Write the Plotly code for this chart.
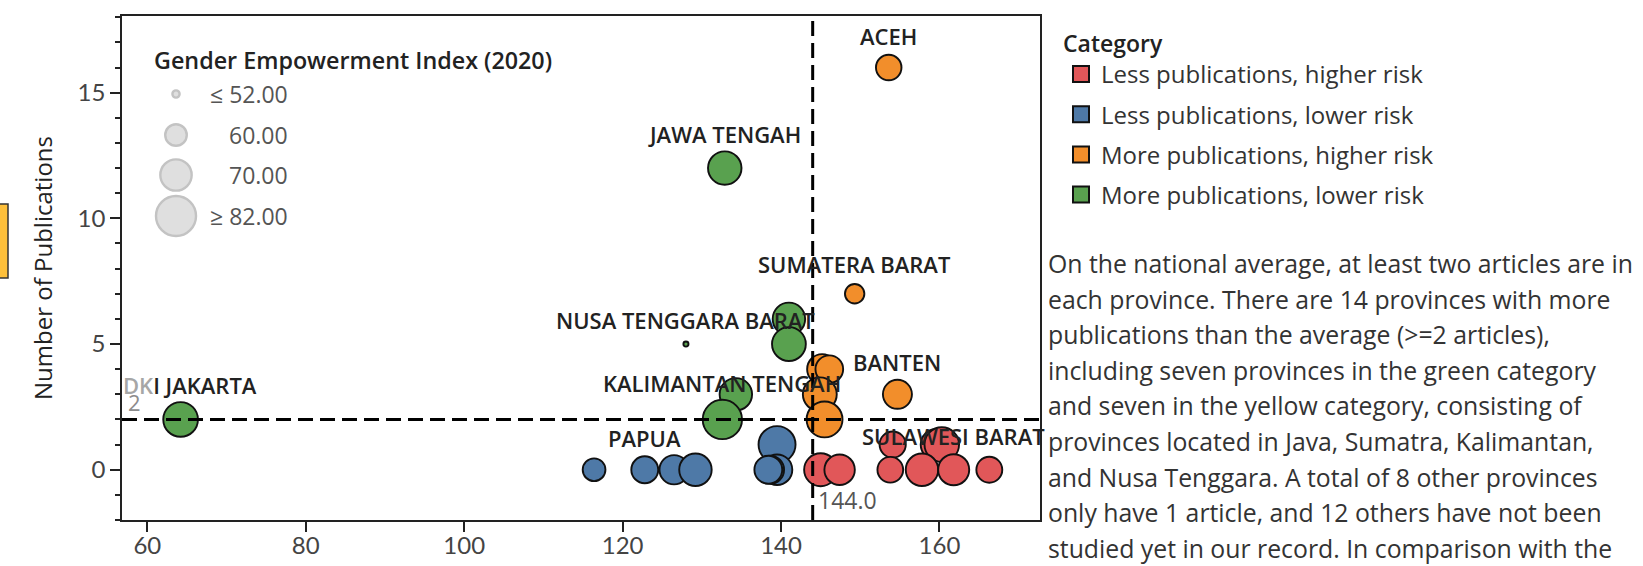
import plotly.graph_objects as go

# ---------------- data ----------------
province = ["ACEH", "JAWA TENGAH", "SUMATERA BARAT", "", "", "NUSA TENGGARA BARAT",
            "", "", "", "BANTEN", "", "KALIMANTAN TENGAH", "", "DKI JAKARTA",
            "", "", "", "",
            "", "PAPUA", "", "", "", "", "",
            "", "", "", "", "SULAWESI BARAT", ""]
risk_score = [153.6, 132.9, 149.3, 141.0, 141.0, 128.0,
              145.2, 146.1, 144.9, 154.7, 134.3, 132.6, 145.5, 64.2,
              139.5, 154.1, 159.6, 160.3,
              116.4, 122.8, 126.5, 129.2, 139.5, 138.6, 138.4,
              145.0, 147.4, 153.8, 157.8, 161.8, 166.3]
publications = [16, 12, 7, 6, 5, 5,
                4, 4, 3, 3, 3, 2, 2, 2,
                1, 1, 1, 1,
                0, 0, 0, 0, 0, 0, 0,
                0, 0, 0, 0, 0, 0]
gei_2020 = [63.6, 72.7, 58.3, 71.4, 73.1, 51.5,
            68.5, 65.8, 73.2, 67.3, 71.4, 80.9, 75.9, 74.3,
            77.5, 64.3, 69.7, 74.1,
            61.0, 65.0, 67.5, 71.4, 69.0, 66.5, 66.0,
            72.0, 68.9, 63.8, 71.4, 69.7, 64.0]
category = ["MH", "ML", "MH", "ML", "ML", "ML",
            "MH", "MH", "MH", "MH", "ML", "ML", "MH", "ML",
            "LL", "LH", "LH", "LH",
            "LL", "LL", "LL", "LL", "LL", "LL", "LL",
            "LH", "LH", "LH", "LH", "LH", "LH"]

cat_codes = ["LH", "LL", "MH", "ML"]
cat_names = ["Less publications, higher risk", "Less publications, lower risk",
             "More publications, higher risk", "More publications, lower risk"]
cat_colors = ["#E15759", "#4E79A7", "#F28E2B", "#59A14F"]

avg_publications = 2
avg_risk = 144.0

size_legend_values = [52, 60, 70, 82]
size_legend_labels = ["\u2264 52.00", "60.00", "70.00", "\u2265 82.00"]

x_range = [56.8, 172.7]
y_range = [-2.0, 18.05]
x_ticks = [60, 80, 100, 120, 140, 160]
y_ticks = [0, 5, 10, 15]

paragraph = [
    "On the national average, at least two articles are in",
    "each province. There are 14 provinces with more",
    "publications than the average (>=2 articles),",
    "including seven provinces in the green category",
    "and seven in the yellow category, consisting of",
    "provinces located in Java, Sumatra, Kalimantan,",
    "and Nusa Tenggara. A total of 8 other provinces",
    "only have 1 article, and 12 others have not been",
    "studied yet in our record. In comparison with the",
]

# ---------------- layout constants ----------------
W, H = 1643, 566
ML, MR, MT, MB = 122, 603, 16, 46
PW, PH = W - ML - MR, H - MT - MB
FONT = "Open Sans"
TICKFONT = "Lato"
SIZE_OFFSET = 51.0
SIZEREF = 0.0387


def size_value(g):
    return max(g - SIZE_OFFSET, 0.3)


def radius(g):
    return (size_value(g) / 2 / SIZEREF) ** 0.5


def px_x(p):  # pixel -> paper
    return (p - ML) / PW


def px_y(p):
    return 1 - (p - MT) / PH


fig = go.Figure()

for code, name, color in zip(cat_codes, cat_names, cat_colors):
    idx = [i for i, c in enumerate(category) if c == code]
    fig.add_trace(go.Scatter(
        x=[risk_score[i] for i in idx],
        y=[publications[i] for i in idx],
        mode="markers",
        name=name,
        showlegend=False,
        text=[province[i] for i in idx],
        marker=dict(size=[size_value(gei_2020[i]) for i in idx], sizemode="area",
                    sizeref=SIZEREF, color=color, opacity=1,
                    line=dict(color="#111111", width=1.9)),
        hovertemplate="%{x}, %{y}<extra></extra>",
    ))

# legend entries (square swatches)
for code, name, color in zip(cat_codes, cat_names, cat_colors):
    fig.add_trace(go.Scatter(
        x=[None], y=[None], mode="markers", name=name, legendgroup=code,
        showlegend=True,
        marker=dict(symbol="square", size=16, color=color,
                    line=dict(color="#111111", width=2)),
    ))

# size legend on an overlay axis
sl_y = [px_y(p) for p in (94, 135, 175, 216)]
fig.add_trace(go.Scatter(
    x=[px_x(176)] * 4, y=sl_y, xaxis="x2", yaxis="y2", mode="markers",
    showlegend=False, hoverinfo="skip",
    marker=dict(size=[size_value(v) for v in size_legend_values], sizemode="area",
                sizeref=SIZEREF, color="#d2d2d2", line=dict(color="#aaaaaa", width=2.4)),
))

annotations = []
# point labels
for i, name in enumerate(province):
    if not name:
        continue
    r = radius(gei_2020[i])
    shift = 22.5 + 0.7 * r
    if name == "DKI JAKARTA":
        annotations.append(dict(
            x=x_range[0], y=publications[i], xref="x", yref="y", xanchor="left",
            yanchor="middle", yshift=shift, xshift=-1, showarrow=False,
            text="<span style='color:#a6a6a6'>DK</span>I JAKARTA",
            font=dict(family=FONT, size=22, color="#222222", weight=600)))
    else:
        annotations.append(dict(
            x=risk_score[i], y=publications[i], xref="x", yref="y", xanchor="center",
            yanchor="middle", yshift=shift, showarrow=False, text=name,
            font=dict(family=FONT, size=22, color="#222222", weight=600)))

# reference line labels
annotations.append(dict(x=0, y=avg_publications, xref="paper", yref="y", xanchor="left",
                        yanchor="bottom", xshift=4, yshift=0, showarrow=False,
                        text=str(avg_publications),
                        font=dict(family=FONT, size=22, color="#8c8c8c")))
annotations.append(dict(x=avg_risk, y=0, xref="x", yref="paper", xanchor="left",
                        yanchor="bottom", xshift=3, yshift=2, showarrow=False,
                        text=f"{avg_risk:.1f}",
                        font=dict(family=FONT, size=23, color="#555555")))

# size legend texts
annotations.append(dict(x=px_x(152), y=px_y(60), xref="paper", yref="paper",
                        xanchor="left", yanchor="middle", showarrow=False,
                        text="Gender Empowerment Index (2020)",
                        font=dict(family=FONT, size=23.3, color="#222222", weight=600)))
for lab, yy in zip(size_legend_labels, sl_y):
    annotations.append(dict(x=px_x(290), y=yy, xref="paper", yref="paper",
                            xanchor="right", yanchor="middle", showarrow=False, text=lab,
                            font=dict(family=FONT, size=23, color="#555555")))

# paragraph
for k, line in enumerate(paragraph):
    annotations.append(dict(x=px_x(1046), y=px_y(263 + 35.6 * k), xref="paper", yref="paper",
                            xanchor="left", yanchor="middle", showarrow=False, text=line,
                            font=dict(family=FONT, size=24.8, color="#333333")))

shapes = [
    dict(type="line", x0=avg_risk, x1=avg_risk, xref="x", y0=0, y1=1, yref="paper",
         line=dict(color="black", width=3, dash="15px,7px"), layer="above"),
    dict(type="line", x0=0, x1=1, xref="paper", y0=avg_publications, y1=avg_publications,
         yref="y", line=dict(color="black", width=3, dash="15px,7px"), layer="above"),
    dict(type="rect", xref="paper", yref="paper", x0=px_x(-4), x1=px_x(8),
         y0=px_y(278), y1=px_y(204), fillcolor="#FDBF3A",
         line=dict(color="#333333", width=1.5)),
]

fig.update_layout(
    width=W, height=H,
    margin=dict(l=ML, r=MR, t=MT, b=MB, autoexpand=False),
    paper_bgcolor="white", plot_bgcolor="white",
    font=dict(family=FONT, size=21, color="#333333"),
    xaxis=dict(range=x_range, tickvals=x_ticks, showgrid=False, zeroline=False,
               showline=True, linecolor="#222222", linewidth=1.5, mirror=True,
               ticks="outside", ticklen=10, tickwidth=1.5, tickcolor="#222222",
               automargin=False, ticklabelstandoff=-7,
               tickfont=dict(family=TICKFONT, size=24, color="#444444")),
    yaxis=dict(range=y_range, tickvals=y_ticks, showgrid=False, zeroline=False,
               showline=True, linecolor="#222222", linewidth=1.5, mirror=True,
               ticks="outside", ticklen=10, tickwidth=1.5, tickcolor="#222222",
               automargin=False,
               minor=dict(dtick=1, ticks="outside", ticklen=5, tickwidth=1.5,
                          tickcolor="#222222", showgrid=False),
               tickfont=dict(family=TICKFONT, size=24, color="#444444"),
               title=dict(text="Number of Publications", standoff=18,
                          font=dict(family=FONT, size=24, color="#222222", weight=500))),
    xaxis2=dict(range=[0, 1], overlaying="x", visible=False, fixedrange=True),
    yaxis2=dict(range=[0, 1], overlaying="y", visible=False, fixedrange=True),
    legend=dict(x=1 + 21 / PW, y=px_y(22), xanchor="left", yanchor="top",
                tracegroupgap=6, itemsizing="trace",
                title=dict(text="Category", font=dict(family=FONT, size=23, color="#222222", weight=600)),
                font=dict(family=FONT, size=24, color="#333333"),
                bgcolor="rgba(0,0,0,0)"),
    annotations=annotations,
    shapes=shapes,
    showlegend=True,
)

fig.write_html("out.html", config={"displayModeBar": False},
               post_script="document.body.style.margin='0';document.body.style.overflow='hidden';")
